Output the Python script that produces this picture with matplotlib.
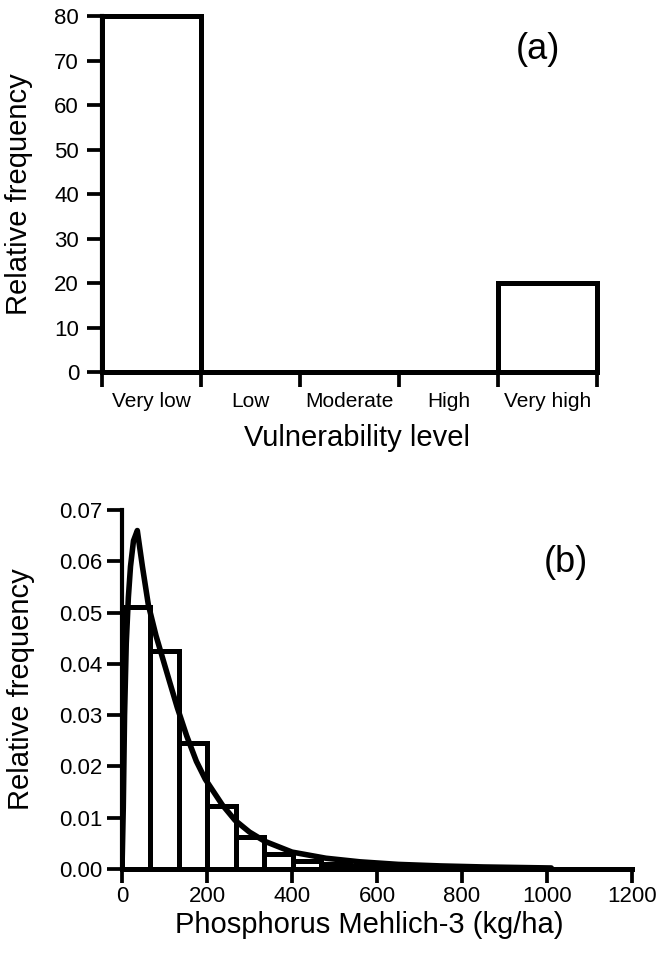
import matplotlib
matplotlib.use("Agg")
import matplotlib.pyplot as plt

plt.rcParams['font.family'] = ['Liberation Sans', 'DejaVu Sans']

# ---- data panel (a)
categories = ["Very low", "Low", "Moderate", "High", "Very high"]
freq_a = [80, 0, 0, 0, 20]
yticks_a = [0, 10, 20, 30, 40, 50, 60, 70, 80]

# ---- data panel (b)
bin_left = [0, 67, 134, 201, 268, 335, 402, 469, 536, 603, 670, 737, 804, 871, 938]
bin_width = 67
freq_b = [0.051, 0.0425, 0.0245, 0.0123, 0.0062, 0.0030, 0.0015, 0.0010,
          0.0006, 0.0004, 0.0003, 0.0002, 0.0002, 0.0001, 0.0001]
curve_x = [0, 3, 6, 10, 15, 20, 27, 36, 48, 62, 80, 96, 112, 130, 152, 175,
           196, 236, 266, 300, 336, 400, 480, 560, 650, 750, 850, 1010]
curve_y = [0, 0.012, 0.030, 0.044, 0.053, 0.059, 0.064, 0.066, 0.059, 0.0515,
           0.0455, 0.041, 0.0365, 0.0315, 0.026, 0.021, 0.0175, 0.0125, 0.0095,
           0.0072, 0.0054, 0.0033, 0.0021, 0.0014, 0.0009, 0.0006, 0.0004, 0.0002]
xticks_b = [0, 200, 400, 600, 800, 1000, 1200]
yticks_b = [0.00, 0.01, 0.02, 0.03, 0.04, 0.05, 0.06, 0.07]

LW = 3.6
TICK_W = 2.7
fig = plt.figure(figsize=(6.57, 9.56), dpi=100)

# ---------------- panel (a)
ax1 = fig.add_axes([0.1553, 0.6104, 0.7534, 0.3729])
ax1.bar(range(len(categories)), freq_a, width=1.0, align='edge', fill=False,
        edgecolor='black', linewidth=LW, clip_on=False)
ax1.set_xlim(0, 5)
ax1.set_ylim(0, 80)
for s in ['top', 'right']:
    ax1.spines[s].set_visible(False)
ax1.spines['bottom'].set_linewidth(LW)
ax1.spines['left'].set_linewidth(3.0)
ax1.set_xticks(range(6))
ax1.set_xticklabels([])
ax1.set_xticks([i + 0.5 for i in range(5)], minor=True)
ax1.set_xticklabels(categories, minor=True, fontsize=15)
ax1.tick_params(axis='x', which='major', direction='out', length=11, width=TICK_W)
ax1.tick_params(axis='x', which='minor', length=0, pad=14)
ax1.set_yticks(yticks_a)
ax1.set_yticklabels([str(v) for v in yticks_a], fontsize=16)
ax1.tick_params(axis='y', direction='out', length=10.5, width=TICK_W, pad=6)
ax1.set_xlabel("Vulnerability level", fontsize=21, va='top')
ax1.xaxis.set_label_coords(0.515, -0.145)
ax1.set_ylabel("Relative frequency", fontsize=21)
ax1.yaxis.set_label_coords(-0.139, 0.5)
ax1.text(0.88, 0.905, "(a)", transform=ax1.transAxes, fontsize=26,
         ha='center', va='center')

# ---------------- panel (b)
ax2 = fig.add_axes([0.1857, 0.0910, 0.7763, 0.3755])
ax2.bar(bin_left, freq_b, width=bin_width, align='edge', fill=False,
        edgecolor='black', linewidth=LW)
ax2.plot(curve_x, curve_y, color='black', linewidth=4.0,
         solid_capstyle='round', solid_joinstyle='round')
ax2.set_xlim(0, 1200)
ax2.set_ylim(0, 0.07)
for s in ['top', 'right']:
    ax2.spines[s].set_visible(False)
ax2.spines['bottom'].set_linewidth(LW)
ax2.spines['left'].set_linewidth(3.0)
ax2.set_xticks(xticks_b)
ax2.set_xticklabels([str(v) for v in xticks_b], fontsize=16)
ax2.set_yticks(yticks_b)
ax2.set_yticklabels([f"{v:.2f}" for v in yticks_b], fontsize=16)
ax2.tick_params(axis='x', direction='out', length=10, width=TICK_W, pad=2)
ax2.tick_params(axis='y', direction='out', length=11, width=TICK_W, pad=3)
ax2.set_xlabel("Phosphorus Mehlich-3 (kg/ha)", fontsize=21, va='top')
ax2.xaxis.set_label_coords(0.485, -0.117)
ax2.set_ylabel("Relative frequency", fontsize=21)
ax2.yaxis.set_label_coords(-0.171, 0.5)
ax2.text(0.87, 0.855, "(b)", transform=ax2.transAxes, fontsize=26,
         ha='center', va='center')

fig.savefig("out.png", dpi=100)
